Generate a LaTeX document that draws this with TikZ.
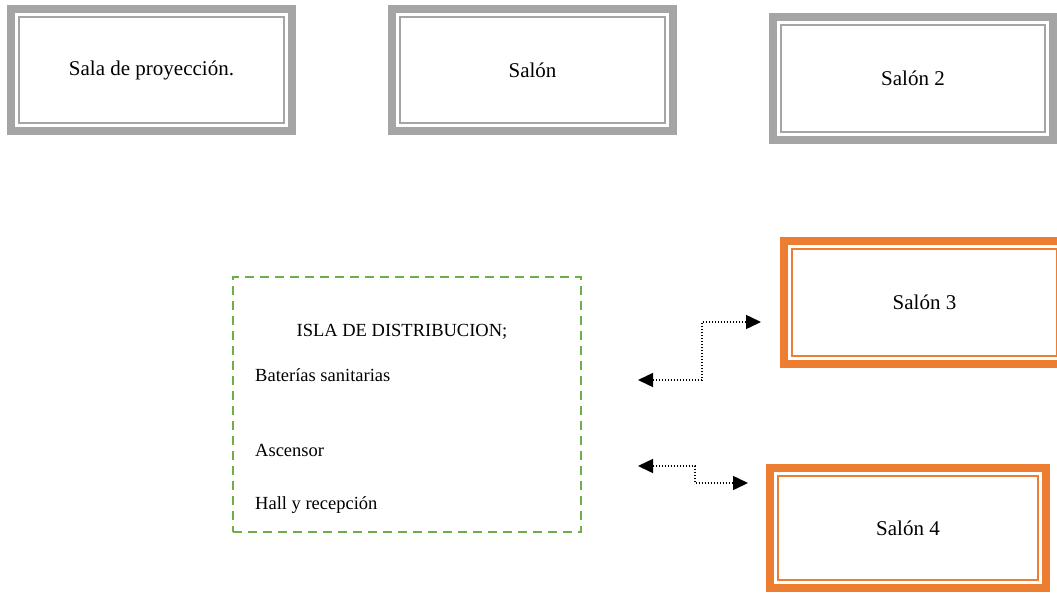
\documentclass[tikz,border=0pt]{standalone}
\usepackage{fontspec}
\setmainfont{Liberation Serif}
\usepackage{tikz}
\usetikzlibrary{arrows.meta}
\definecolor{marcogris}{HTML}{A5A5A5}
\definecolor{marconaranja}{HTML}{ED7D31}
\definecolor{islaverde}{HTML}{70AD47}
\tikzstyle{salabox} = [draw, rectangle, line width=8pt, inner sep=0pt,
    minimum width=281pt, minimum height=122pt, text=black,
    font=\fontsize{21}{25}\selectfont,
    path picture={\draw[line width=2pt] ([shift={(8pt,-8pt)}]path picture bounding box.north west)
        rectangle ([shift={(-8pt,8pt)}]path picture bounding box.south east);}]
\tikzstyle{grisbox} = [salabox, color=marcogris, text=black]
\tikzstyle{naranjabox} = [salabox, color=marconaranja, text=black]
\tikzstyle{islabox} = [draw=islaverde, line width=2pt, dash pattern=on 9pt off 6pt,
    rectangle, minimum width=348pt, minimum height=255pt, inner sep=0pt]
\tikzstyle{islatext} = [font=\fontsize{18.5}{22}\selectfont, inner sep=0pt]
\tikzstyle{enlace} = [line width=1.5pt, dash pattern=on 1.5pt off 1.5pt,
    {Triangle[length=15pt,width=14pt]}-{Triangle[length=15pt,width=14pt]}]

\begin{document}
\begin{tikzpicture}[x=1pt, y=-1pt]
\useasboundingbox (0,0) rectangle (1057,592);
\node [grisbox] (sala) at (151.5,70) {Sala de proyección.};
\node [grisbox] (salon) at (532.5,70) {Salón};
\node [grisbox, minimum width=280pt, minimum height=123pt] (salon2) at (913,78.5) {Salón 2};
\node [naranjabox, minimum height=123pt] (salon3) at (924.5,302.5) {Salón 3};
\node [naranjabox, minimum width=276pt, minimum height=120pt] (salon4) at (908,528) {Salón 4};
\node [islabox] (isla) at (407,404.5) {};
\node [islatext] (titulo) at (402,332) {ISLA DE DISTRIBUCION;};
\node [islatext, anchor=west] (banos) at (255,375) {Baterías sanitarias};
\node [islatext, anchor=west] (ascensor) at (255,450) {Ascensor};
\node [islatext, anchor=west] (hall) at (255,505) {Hall y recepción};
\coordinate (a3) at ([shift={(56,-24.5)}]isla.east);
\coordinate (b3) at ([shift={(-19,19.5)}]salon3.west);
\coordinate (a4) at ([shift={(56,61.5)}]isla.east);
\coordinate (b4) at ([shift={(-18,-45)}]salon4.west);
\draw [enlace] (a3) -- ++(64,0) |- (b3);
\draw [enlace] (a4) -- ++(57,0) |- (b4);
\end{tikzpicture}
\end{document}
